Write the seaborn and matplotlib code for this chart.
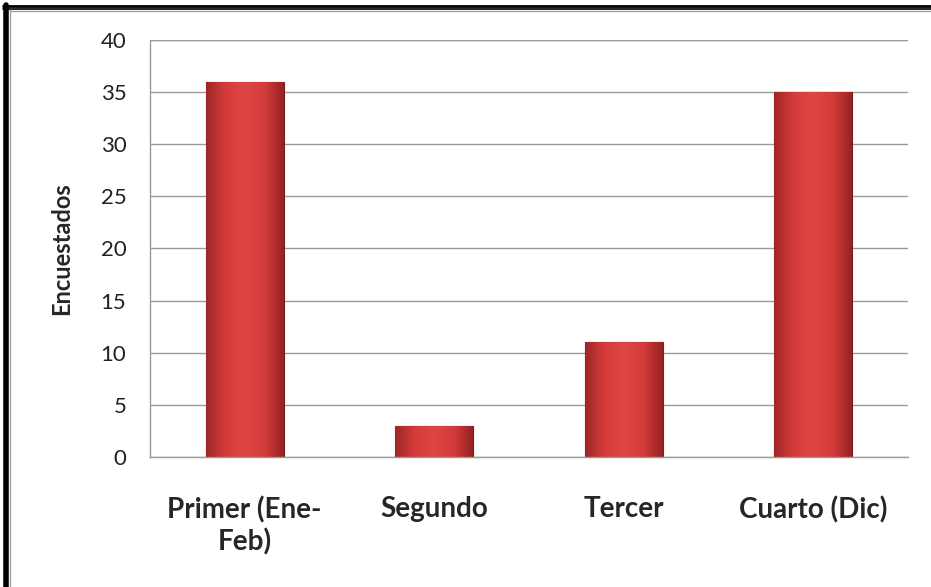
import numpy as np
import pandas as pd
import matplotlib
matplotlib.use("Agg")
import matplotlib.pyplot as plt
from matplotlib.lines import Line2D
from matplotlib.colors import LinearSegmentedColormap
import seaborn as sns

# Chart data
categories = ["Primer (Ene-\nFeb)", "Segundo", "Tercer", "Cuarto (Dic)"]
encuestados = [36, 3, 11, 35]
y_ticks = [0, 5, 10, 15, 20, 25, 30, 35, 40]

df = pd.DataFrame({"Trimestre": categories, "Encuestados": encuestados})

sns.set_style("white")
plt.rcParams["font.family"] = ["Lato", "DejaVu Sans"]

fig = plt.figure(figsize=(9.31, 5.87), dpi=100)
ax = fig.add_axes([0.1611, 0.2215, 0.8142, 0.7104])

sns.barplot(data=df, x="Trimestre", y="Encuestados", color="#d64541",
            width=0.41, edgecolor="#7a1c1c", linewidth=0.8, ax=ax, zorder=2)

# horizontal gradient inside each bar (darker at the sides)
grad = LinearSegmentedColormap.from_list(
    "bar", ["#9e2626", "#d43c3b", "#dc4645", "#d43c3b", "#962222"])
gvals = np.linspace(0, 1, 256).reshape(1, -1)
for patch in ax.patches:
    x0, y0 = patch.get_x(), patch.get_y()
    w, h = patch.get_width(), patch.get_height()
    im = ax.imshow(gvals, cmap=grad, aspect="auto",
                   extent=[x0, x0 + w, y0, y0 + h], zorder=2.5)
    im.set_clip_path(patch)

ax.set_xlim(-0.5, 3.5)
ax.set_ylim(0, 40)
ax.set_yticks(y_ticks)
ax.yaxis.grid(True, color="#9a9a9a", linewidth=1.0)
ax.set_axisbelow(True)
ax.axhline(40, color="#9a9a9a", linewidth=1.0, zorder=1)

for side in ["top", "right"]:
    ax.spines[side].set_visible(False)
for side in ["left", "bottom"]:
    ax.spines[side].set_color("#9a9a9a")
    ax.spines[side].set_linewidth(1.0)

ax.tick_params(axis="y", length=0, pad=17, labelsize=16, labelcolor="#222222")
ax.tick_params(axis="x", length=0, pad=28, labelsize=20)
for lbl in ax.get_xticklabels():
    lbl.set_fontweight("bold")
    lbl.set_linespacing(1.25)

ax.set_xlabel("")
ax.set_ylabel("Encuestados", fontsize=17, fontweight="bold", labelpad=20)

# outer frame (double line top, thick line left)
W, H = 931, 587
def fx(px):
    return px / W
def fy(py):
    return 1 - py / H

fig.add_artist(Line2D([fx(3), fx(931)], [fy(6), fy(6)], color="black", lw=2.0))
fig.add_artist(Line2D([fx(3), fx(931)], [fy(9), fy(9)], color="black", lw=1.2))
fig.add_artist(Line2D([fx(6), fx(6)], [fy(5), fy(587)], color="black", lw=4.0))
fig.add_artist(Line2D([fx(10), fx(10)], [fy(10), fy(587)], color="#a0a0a0", lw=1.0))
fig.add_artist(Line2D([fx(10), fx(931)], [fy(11), fy(11)], color="#a0a0a0", lw=1.0))

fig.savefig("out.png", dpi=100)
